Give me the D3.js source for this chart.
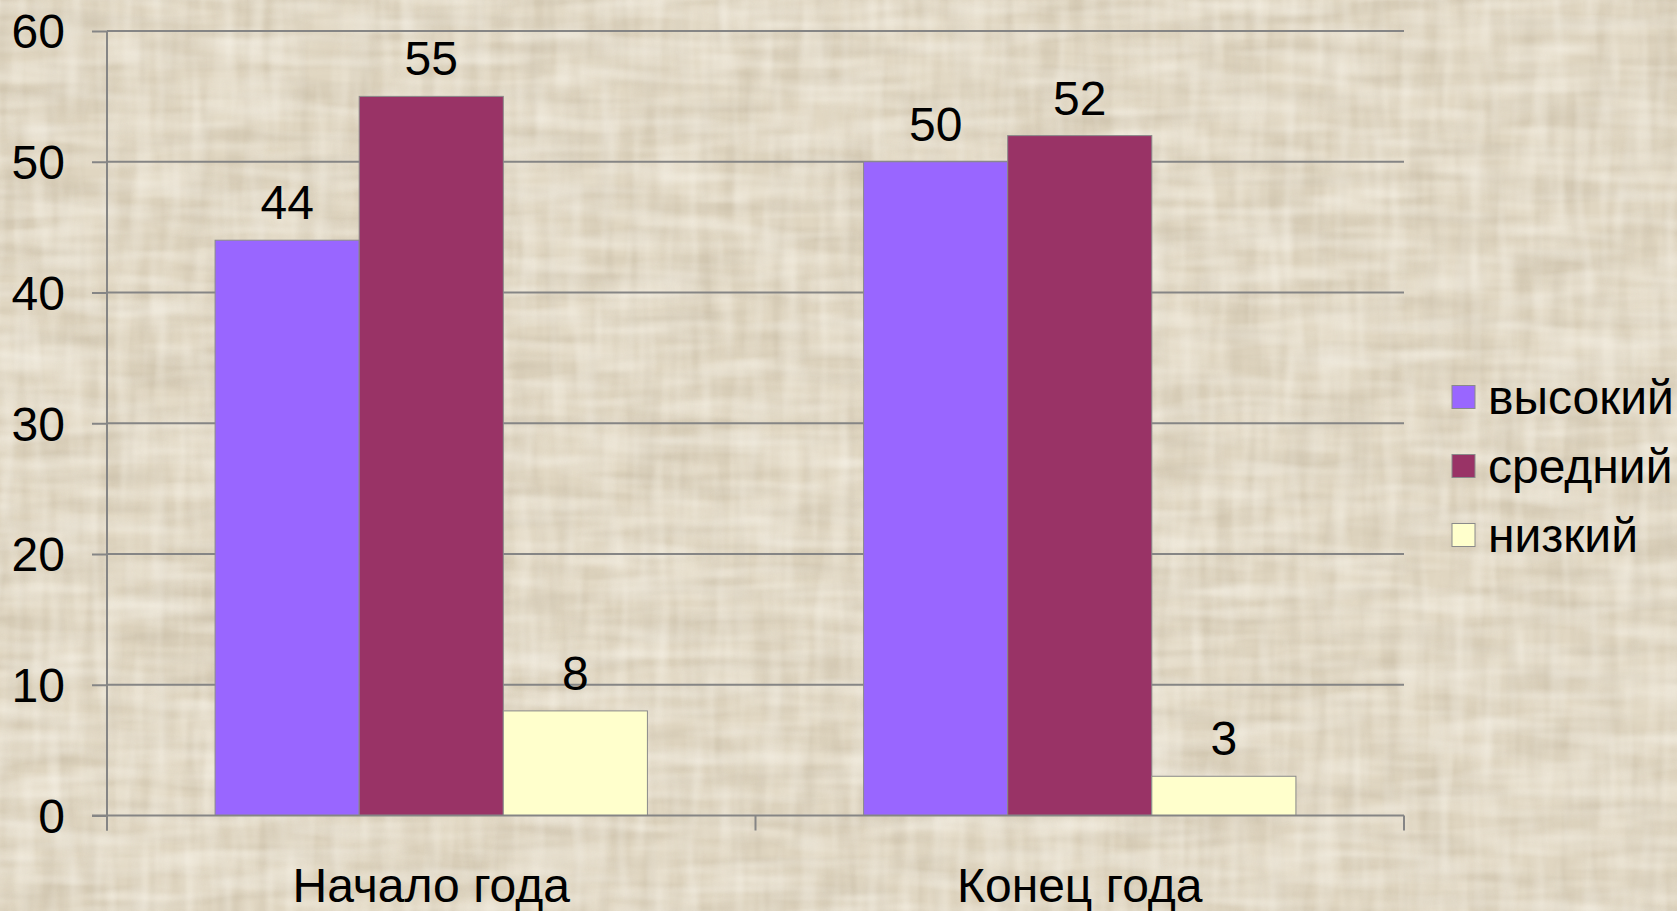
<!DOCTYPE html>
<html>
<head>
<meta charset="utf-8">
<script src="https://cdn.jsdelivr.net/npm/d3@7"></script>
<style>
  html, body { margin: 0; padding: 0; background: #dfd4be; }
  svg { display: block; }
  text { font-family: "Liberation Sans", Arial, sans-serif; fill: #000; }
</style>
</head>
<body>
<svg id="chart" width="1677" height="911"></svg>
<script>
const categories = ["Начало года", "Конец года"];
const seriesNames = ["высокий", "средний", "низкий"];
const seriesColors = ["#9966ff", "#993366", "#ffffcc"];
const vysokiy = [44, 50];
const sredniy = [55, 52];
const nizkiy = [8, 3];
const yTicks = [0, 10, 20, 30, 40, 50, 60];

const seriesValues = [vysokiy, sredniy, nizkiy];
const W = 1677, H = 911;
const plotLeft = 107, plotRight = 1404, plotTop = 31, plotBottom = 815.5;

const svg = d3.select("#chart");

// background texture (parchment-like streaks)
const defs = svg.append("defs");
function texFilter(id, freq, seed, rgb, k) {
  const f = defs.append("filter").attr("id", id).attr("x", 0).attr("y", 0).attr("width", "100%").attr("height", "100%");
  f.append("feTurbulence").attr("type", "fractalNoise").attr("baseFrequency", freq).attr("numOctaves", 2).attr("seed", seed);
  f.append("feColorMatrix").attr("type", "matrix")
    .attr("values", `0 0 0 0 ${rgb[0]}  0 0 0 0 ${rgb[1]}  0 0 0 0 ${rgb[2]}  ${k[0]} 0 0 0 ${k[1]}`);
}
texFilter("texH", "0.008 0.07", 3, [0.55, 0.48, 0.36], [1.6, -0.62]);
texFilter("texV", "0.07 0.008", 11, [0.55, 0.48, 0.36], [1.6, -0.62]);
texFilter("texL", "0.01 0.06", 21, [1, 0.98, 0.92], [1.6, -0.6]);
texFilter("texL2", "0.06 0.01", 29, [1, 0.98, 0.92], [1.6, -0.6]);

svg.append("rect").attr("width", W).attr("height", H).attr("fill", "#e0d6c1");
svg.append("rect").attr("width", W).attr("height", H).attr("filter", "url(#texH)").attr("opacity", 0.6);
svg.append("rect").attr("width", W).attr("height", H).attr("filter", "url(#texV)").attr("opacity", 0.5);
svg.append("rect").attr("width", W).attr("height", H).attr("filter", "url(#texL)").attr("opacity", 0.55);
svg.append("rect").attr("width", W).attr("height", H).attr("filter", "url(#texL2)").attr("opacity", 0.45);

const x0 = d3.scaleBand().domain(categories).range([plotLeft, plotRight]).padding(0);
const x1 = d3.scaleBand().domain(seriesNames).range([0, x0.bandwidth()]).paddingInner(0).paddingOuter(0.75);
const y = d3.scaleLinear().domain([0, 60]).range([plotBottom, plotTop]);

const gridColor = "#858585";

// gridlines
svg.append("g").selectAll("line").data(yTicks.filter(d => d > 0)).join("line")
  .attr("x1", plotLeft).attr("x2", plotRight)
  .attr("y1", d => y(d)).attr("y2", d => y(d))
  .attr("stroke", gridColor).attr("stroke-width", 2);

// y axis
const yAxis = svg.append("g").attr("transform", `translate(${plotLeft},0)`)
  .call(d3.axisLeft(y).tickValues(yTicks).tickSize(15).tickPadding(27).tickFormat(d3.format("d")));
yAxis.select(".domain").attr("stroke", gridColor).attr("stroke-width", 2)
  .attr("d", `M0,${plotTop}V${plotBottom + 15}`);
yAxis.selectAll(".tick line").attr("stroke", gridColor).attr("stroke-width", 2);
yAxis.selectAll(".tick text").style("font-size", "48px").attr("fill", "#000")
  .attr("font-family", "Liberation Sans, Arial, sans-serif").attr("dy", "0.35em");

// bars
const groups = svg.append("g").selectAll("g").data(categories).join("g")
  .attr("transform", c => `translate(${x0(c)},0)`);
groups.selectAll("rect")
  .data((c, ci) => seriesNames.map((s, si) => ({ s, si, v: seriesValues[si][ci] })))
  .join("rect")
  .attr("x", d => x1(d.s))
  .attr("y", d => y(d.v))
  .attr("width", x1.bandwidth())
  .attr("height", d => y(0) - y(d.v))
  .attr("fill", d => seriesColors[d.si])
  .attr("stroke", "#8a8a8a").attr("stroke-width", 1);

groups.selectAll("text.val")
  .data((c, ci) => seriesNames.map((s, si) => ({ s, si, v: seriesValues[si][ci] })))
  .join("text").attr("class", "val")
  .attr("x", d => x1(d.s) + x1.bandwidth() / 2)
  .attr("y", d => y(d.v) - 21)
  .attr("text-anchor", "middle")
  .style("font-size", "48px")
  .text(d => d.v);

// x axis
const xAxisG = svg.append("g");
xAxisG.append("line").attr("x1", plotLeft - 15).attr("x2", plotRight).attr("y1", plotBottom).attr("y2", plotBottom)
  .attr("stroke", gridColor).attr("stroke-width", 2);
const edges = categories.map(c => x0(c)).concat([x0.range()[1]]);
xAxisG.selectAll("line.tk").data(edges).join("line").attr("class", "tk")
  .attr("x1", d => d).attr("x2", d => d).attr("y1", plotBottom).attr("y2", plotBottom + 15)
  .attr("stroke", gridColor).attr("stroke-width", 2);
xAxisG.selectAll("text").data(categories).join("text")
  .attr("x", c => x0(c) + x0.bandwidth() / 2)
  .attr("y", 902)
  .attr("text-anchor", "middle")
  .style("font-size", "48px")
  .text(c => c);

// legend
const legend = svg.append("g").attr("transform", "translate(1452,397)");
const li = legend.selectAll("g").data(seriesNames).join("g")
  .attr("transform", (d, i) => `translate(0,${i * 69})`);
li.append("rect").attr("x", 0).attr("y", -11.5).attr("width", 23).attr("height", 23)
  .attr("fill", (d, i) => seriesColors[i]).attr("stroke", "#8a8a8a").attr("stroke-width", 1);
li.append("text").attr("x", 36).attr("y", 17).style("font-size", "48px").text(d => d);
</script>
</body>
</html>
